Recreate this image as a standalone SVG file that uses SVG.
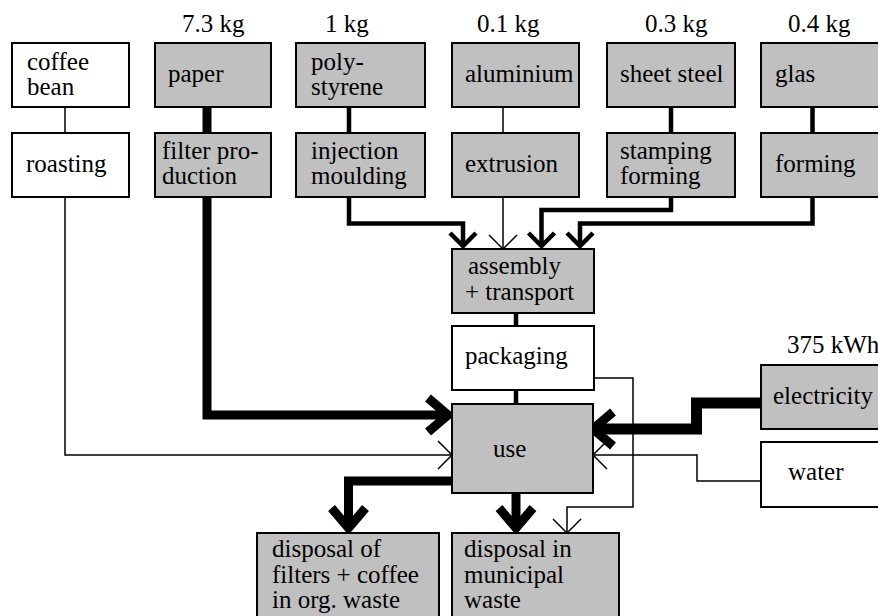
<svg xmlns="http://www.w3.org/2000/svg" width="878" height="616" viewBox="0 0 878 616" font-family="'Liberation Serif', 'DejaVu Serif', serif">
  <style>
    .box { stroke: #000; stroke-width: 2; }
    .grey { fill: #c0c0c0; }
    .white { fill: #fff; }
    text { font-family: 'Liberation Serif', 'DejaVu Serif', serif; font-size: 25px; fill: #000; }
    .flow { fill: none; stroke: #000; stroke-linejoin: miter; stroke-linecap: butt; }
    .thin { stroke-width: 1.5; }
    .mid { stroke-width: 4.5; }
    .thick { stroke-width: 9; }
    .heavy { stroke-width: 11; }
  </style>
  <defs>
    <marker id="arrowThin" markerUnits="userSpaceOnUse" orient="auto" refX="0" refY="0" markerWidth="40" markerHeight="40" overflow="visible">
      <path d="M-14,-14 L0,0 L-14,14" fill="none" stroke="#000" stroke-width="1.5"/>
    </marker>
    <marker id="arrowMid" markerUnits="userSpaceOnUse" orient="auto" refX="0" refY="0" markerWidth="40" markerHeight="40" overflow="visible">
      <path d="M-13,-13 L0,0 L-13,13" fill="none" stroke="#000" stroke-width="4.5"/>
    </marker>
    <marker id="arrowThick" markerUnits="userSpaceOnUse" orient="auto" refX="0" refY="0" markerWidth="60" markerHeight="60" overflow="visible">
      <path d="M-20,-17 L0,0 L-20,17" fill="none" stroke="#000" stroke-width="9"/>
    </marker>
  </defs>

  <rect width="878" height="616" fill="#fff"/>

  <!-- quantity labels -->
  <g id="labels">
    <text x="182" y="32">7.3 kg</text>
    <text x="325" y="32">1 kg</text>
    <text x="477" y="32">0.1 kg</text>
    <text x="645" y="32">0.3 kg</text>
    <text x="788" y="32">0.4 kg</text>
    <text x="787" y="353">375 kWh</text>
  </g>

  <!-- flows -->
  <g id="connectors">
    <!-- coffee chain -->
    <path class="flow thin" d="M65,107 V133"/>
    <path class="flow thin" d="M65,197 V455 H452" marker-end="url(#arrowThin)"/>
    <!-- filters -->
    <path class="flow thick" d="M207,107 V133"/>
    <path class="flow thick" d="M207,197 V415 H448" marker-end="url(#arrowThick)"/>
    <!-- polystyrene -->
    <path class="flow mid" d="M349,107 V133"/>
    <path class="flow mid" d="M349,197 V223.5 H463 V246" marker-end="url(#arrowMid)"/>
    <!-- aluminium -->
    <path class="flow thin" d="M503,107 V133"/>
    <path class="flow thin" d="M503,197 V249" marker-end="url(#arrowThin)"/>
    <!-- sheet steel -->
    <path class="flow mid" d="M671,107 V133"/>
    <path class="flow mid" d="M671,197 V210 H541.5 V246" marker-end="url(#arrowMid)"/>
    <!-- glass -->
    <path class="flow mid" d="M812.5,107 V133"/>
    <path class="flow mid" d="M812.5,197 V223.5 H580 V246" marker-end="url(#arrowMid)"/>
    <!-- assembly / packaging / use -->
    <path class="flow mid" d="M516,313 V326"/>
    <path class="flow mid" d="M516,390 V404"/>
    <path class="flow thin" d="M594,378 H633 V507 H567 V533" marker-end="url(#arrowThin)"/>
    <!-- electricity and water -->
    <path class="flow heavy" d="M761,403 H696.5 V429 H593" marker-end="url(#arrowThick)"/>
    <path class="flow thin" d="M761,481 H697 V455 H593" marker-end="url(#arrowThin)"/>
    <!-- disposal -->
    <path class="flow thick" d="M452,481 H348.5 V528" marker-end="url(#arrowThick)"/>
    <path class="flow thick" d="M516,493 V528" marker-end="url(#arrowThick)"/>
  </g>

  <g id="coffee-bean">
    <rect class="box white" x="12" y="43" width="117" height="64"/>
    <text><tspan x="27" y="70">coffee</tspan><tspan x="27" y="95">bean</tspan></text>
  </g>
  <g id="roasting">
    <rect class="box white" x="12" y="133" width="117" height="64"/>
    <text x="26" y="172">roasting</text>
  </g>
  <g id="paper">
    <rect class="box grey" x="155" y="43" width="116" height="64"/>
    <text x="168" y="82">paper</text>
  </g>
  <g id="filter-production">
    <rect class="box grey" x="155" y="133" width="116" height="64"/>
    <text><tspan x="162" y="159">filter pro-</tspan><tspan x="162" y="184">duction</tspan></text>
  </g>
  <g id="polystyrene">
    <rect class="box grey" x="296" y="43" width="129" height="64"/>
    <text><tspan x="311" y="70">poly-</tspan><tspan x="311" y="95">styrene</tspan></text>
  </g>
  <g id="injection-moulding">
    <rect class="box grey" x="296" y="133" width="129" height="64"/>
    <text><tspan x="311" y="159">injection</tspan><tspan x="311" y="184">moulding</tspan></text>
  </g>
  <g id="aluminium">
    <rect class="box grey" x="452" y="43" width="127" height="64"/>
    <text x="465" y="82">aluminium</text>
  </g>
  <g id="extrusion">
    <rect class="box grey" x="452" y="133" width="127" height="64"/>
    <text x="465" y="172">extrusion</text>
  </g>
  <g id="sheet-steel">
    <rect class="box grey" x="607" y="43" width="128" height="64"/>
    <text x="620" y="82">sheet steel</text>
  </g>
  <g id="stamping-forming">
    <rect class="box grey" x="607" y="133" width="128" height="64"/>
    <text><tspan x="620" y="159">stamping</tspan><tspan x="620" y="184">forming</tspan></text>
  </g>
  <g id="glas">
    <rect class="box grey" x="761" y="43" width="130" height="64"/>
    <text x="775" y="82">glas</text>
  </g>
  <g id="forming">
    <rect class="box grey" x="761" y="133" width="130" height="64"/>
    <text x="775" y="172">forming</text>
  </g>
  <g id="assembly-transport">
    <rect class="box grey" x="452" y="249" width="142" height="64"/>
    <text><tspan x="468" y="274">assembly</tspan><tspan x="465" y="300">+ transport</tspan></text>
  </g>
  <g id="packaging">
    <rect class="box white" x="452" y="326" width="142" height="64"/>
    <text x="465" y="364">packaging</text>
  </g>
  <g id="use">
    <rect class="box grey" x="452" y="404" width="141" height="89"/>
    <text x="493" y="457">use</text>
  </g>
  <g id="electricity">
    <rect class="box grey" x="761" y="365" width="130" height="64"/>
    <text x="773" y="404">electricity</text>
  </g>
  <g id="water">
    <rect class="box white" x="761" y="442" width="130" height="65"/>
    <text x="788" y="480">water</text>
  </g>
  <g id="disposal-organic">
    <rect class="box grey" x="257" y="533" width="182" height="100"/>
    <text><tspan x="272" y="557">disposal of</tspan><tspan x="272" y="583">filters + coffee</tspan><tspan x="272" y="608">in org. waste</tspan></text>
  </g>
  <g id="disposal-municipal">
    <rect class="box grey" x="452" y="533" width="167" height="100"/>
    <text><tspan x="464" y="557">disposal in</tspan><tspan x="464" y="583">municipal</tspan><tspan x="464" y="608">waste</tspan></text>
  </g>
</svg>
